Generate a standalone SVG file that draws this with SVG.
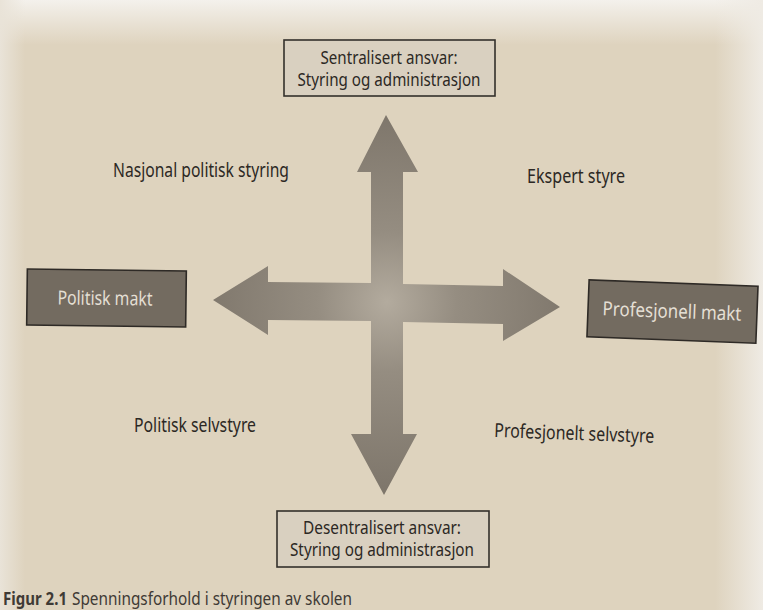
<svg xmlns="http://www.w3.org/2000/svg" width="763" height="610" viewBox="0 0 763 610">
<defs>
<style>
.lbl{font-family:"Noto Sans","Liberation Sans",sans-serif;font-size:19.5px;fill:#2c2824}
.bt{font-family:"Noto Sans","Liberation Sans",sans-serif;font-size:18px;fill:#2c2824;text-anchor:middle}
.dt{font-family:"Noto Sans","Liberation Sans",sans-serif;font-size:19.5px;fill:#e4dfd4;text-anchor:middle}
.lightbox{fill:#d9d0c0;stroke:#33302b;stroke-width:1.6}
.darkbox{fill:#736b60;stroke:#2e2a26;stroke-width:1.6}
.cap{font-family:"Noto Sans","Liberation Sans",sans-serif;font-size:18px;fill:#3f3a35}
</style>
<linearGradient id="topfade" x1="0" y1="0" x2="0" y2="1">
<stop offset="0" stop-color="#f4f1ec"/>
<stop offset="1" stop-color="#f4f1ec" stop-opacity="0"/>
</linearGradient>
<linearGradient id="rightfade" x1="0" y1="0" x2="1" y2="0">
<stop offset="0" stop-color="#efebe4" stop-opacity="0"/>
<stop offset="1" stop-color="#efebe4"/>
</linearGradient>
<linearGradient id="leftfade" x1="0" y1="0" x2="1" y2="0">
<stop offset="0" stop-color="#e9e3d8"/>
<stop offset="1" stop-color="#e9e3d8" stop-opacity="0"/>
</linearGradient>
<radialGradient id="arrowfill" cx="387" cy="302" r="200" gradientUnits="userSpaceOnUse">
<stop offset="0" stop-color="#b3ab9e"/>
<stop offset="0.35" stop-color="#958d81"/>
<stop offset="1" stop-color="#7c7469"/>
</radialGradient>
</defs>
<rect x="0" y="0" width="763" height="610" fill="#ded3be"/>
<rect x="0" y="0" width="763" height="45" fill="url(#topfade)"/>
<rect x="715" y="0" width="48" height="610" fill="url(#rightfade)"/>
<rect x="0" y="0" width="25" height="610" fill="url(#leftfade)"/>
<g id="connectors">
<polygon fill="url(#arrowfill)" points="386,115 418,172 403,172 403,284 503,286 503,269 560,307 503,341 503,324 403,322 403,434 417,434 384,495 351,434 371,434 371,321 268,320 268,335 213,300 268,266 268,282 371,283 371,172 357,172"/>
</g>
<g id="node-sentralisert">
<rect class="lightbox" x="284" y="40" width="211" height="56"/>
<text class="bt" x="389" y="64" textLength="137" lengthAdjust="spacingAndGlyphs">Sentralisert ansvar:</text>
<text class="bt" x="389" y="86" textLength="183" lengthAdjust="spacingAndGlyphs">Styring og administrasjon</text>
</g>
<g id="node-desentralisert">
<rect class="lightbox" x="277" y="511" width="212" height="56"/>
<text class="bt" x="382" y="534" textLength="158" lengthAdjust="spacingAndGlyphs">Desentralisert ansvar:</text>
<text class="bt" x="382" y="556" textLength="184" lengthAdjust="spacingAndGlyphs">Styring og administrasjon</text>
</g>
<g id="node-politisk" transform="rotate(0.7 106 298)">
<rect class="darkbox" x="27" y="270" width="159" height="56"/>
<text class="dt" x="105" y="305" textLength="95" lengthAdjust="spacingAndGlyphs">Politisk makt</text>
</g>
<g id="node-profesjonell" transform="rotate(2.2 672 311)">
<rect class="darkbox" x="588" y="283" width="169" height="57"/>
<text class="dt" x="672" y="318" textLength="139" lengthAdjust="spacingAndGlyphs">Profesjonell makt</text>
</g>
<g id="labels">
<text class="lbl" x="113" y="177" textLength="176" lengthAdjust="spacingAndGlyphs">Nasjonal politisk styring</text>
<text class="lbl" x="527" y="183" textLength="98" lengthAdjust="spacingAndGlyphs">Ekspert styre</text>
<text class="lbl" x="134" y="432" textLength="122" lengthAdjust="spacingAndGlyphs">Politisk selvstyre</text>
<text class="lbl" x="494" y="437" textLength="160" lengthAdjust="spacingAndGlyphs" transform="rotate(2.1 494 437)">Profesjonelt selvstyre</text>
</g>
<g id="caption">
<text class="cap" font-weight="bold" transform="translate(3 605) scale(0.8 1)" x="0" y="0" textLength="80" lengthAdjust="spacingAndGlyphs">Figur 2.1</text>
<text class="cap" transform="translate(72 605) scale(0.8 1)" x="0" y="0" textLength="350" lengthAdjust="spacingAndGlyphs">Spenningsforhold i styringen av skolen</text>
</g>
</svg>
